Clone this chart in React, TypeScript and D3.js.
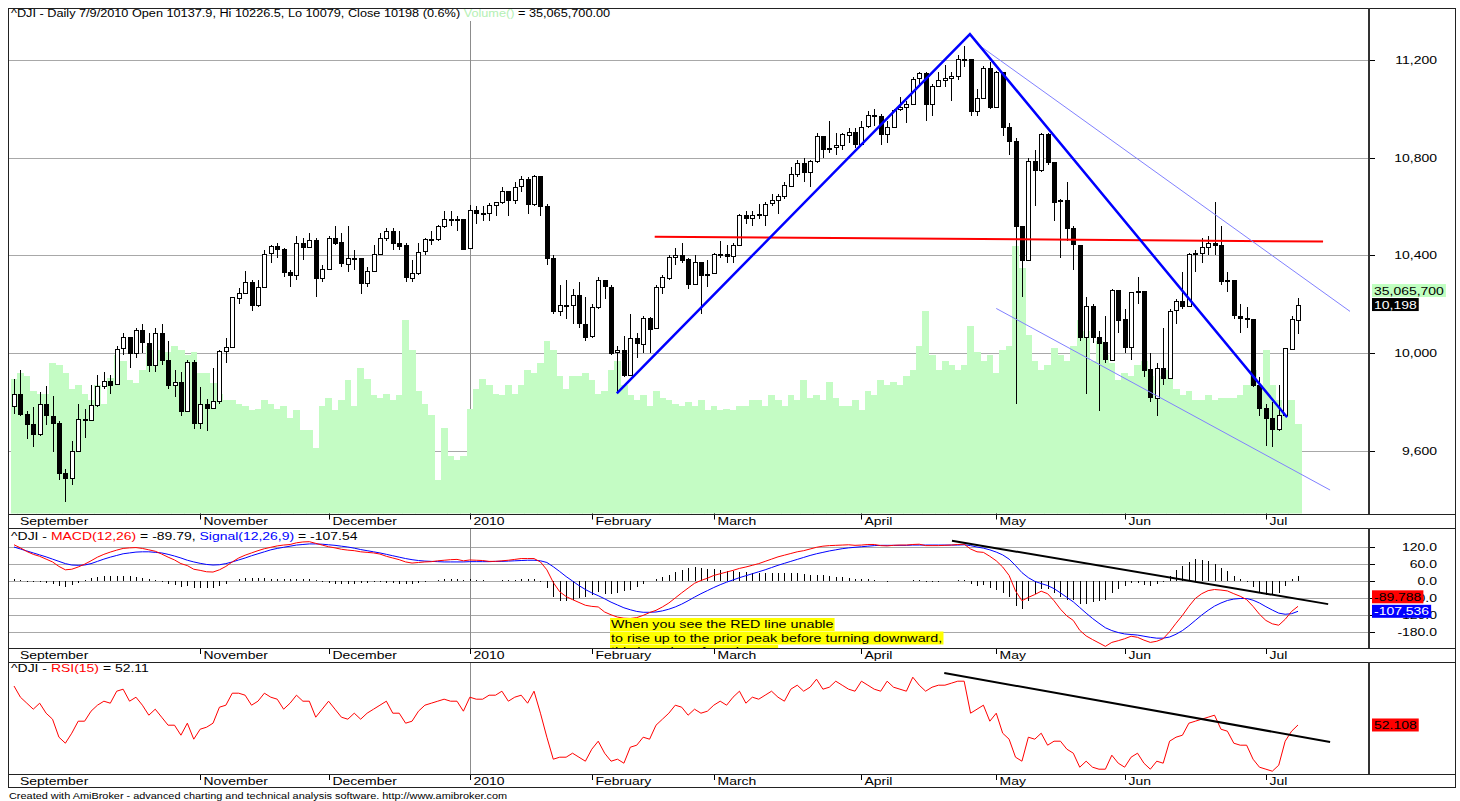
import React from 'react';
import * as d3 from 'd3';

// ---------- DATA (daily bars, 9/22/2009 .. 7/9/2010) ----------
const openP = [
  9779, 9830, 9749, 9707, 9665, 9789, 9742, 9712, 9509, 9488,
  9600, 9731, 9726, 9787, 9865, 9886, 9871, 10016, 10063, 9996,
  10092, 10041, 9949, 10081, 9972, 9868, 9882, 9763, 9963, 9713,
  9789, 9772, 9802, 10006, 10023, 10227, 10247, 10291, 10197, 10270,
  10407, 10437, 10426, 10332, 10318, 10451, 10434, 10464, 10310, 10345,
  10472, 10453, 10366, 10389, 10390, 10286, 10337, 10406, 10472, 10501,
  10452, 10441, 10308, 10329, 10414, 10465, 10466, 10520, 10547, 10545,
  10549, 10428, 10584, 10572, 10574, 10607, 10618, 10664, 10627, 10681,
  10711, 10610, 10725, 10603, 10390, 10173, 10197, 10194, 10236, 10120,
  10067, 10186, 10297, 10271, 10002, 10012, 9908, 10059, 10038, 10144,
  10099, 10269, 10309, 10393, 10402, 10383, 10282, 10374, 10321, 10325,
  10404, 10406, 10397, 10444, 10566, 10553, 10564, 10567, 10612, 10625,
  10642, 10686, 10734, 10779, 10742, 10786, 10889, 10836, 10841, 10850,
  10896, 10907, 10857, 10927, 10974, 10970, 10898, 10927, 10997, 11006,
  11019, 11123, 11145, 11019, 11092, 11117, 11125, 11134, 11204, 11205,
  10992, 11045, 11167, 11009, 11152, 10927, 10868, 10520, 10380, 10785,
  10748, 10897, 10783, 10620, 10626, 10511, 10444, 10068, 10193, 10067,
  10044, 9974, 10259, 10137, 10024, 10250, 10255, 9932, 9816, 9940,
  9899, 10173, 10211, 10191, 10405, 10409, 10434, 10451, 10442, 10294,
  10298, 10153, 10144, 10139, 9870, 9774, 9733, 9686, 9744, 10018,
  10137.9,
];
const highP = [
  9892, 9930, 9760, 9780, 9840, 9863, 9822, 9720, 9525, 9640,
  9790, 9770, 9870, 9910, 9920, 9910, 10030, 10080, 10060, 10100,
  10120, 10080, 10100, 10120, 10050, 9930, 9920, 9970, 9970, 9860,
  9810, 9940, 10010, 10060, 10230, 10265, 10335, 10300, 10300, 10420,
  10440, 10450, 10430, 10340, 10480, 10470, 10490, 10470, 10360, 10480,
  10520, 10490, 10520, 10420, 10390, 10350, 10440, 10490, 10510, 10510,
  10500, 10450, 10380, 10450, 10470, 10500, 10525, 10580, 10580, 10560,
  10550, 10605, 10600, 10600, 10615, 10620, 10680, 10665, 10700, 10725,
  10720, 10730, 10725, 10610, 10400, 10280, 10300, 10260, 10290, 10230,
  10200, 10310, 10300, 10280, 10030, 10070, 10160, 10080, 10150, 10145,
  10280, 10320, 10400, 10430, 10450, 10390, 10400, 10374, 10380, 10410,
  10460, 10440, 10450, 10570, 10580, 10580, 10610, 10620, 10650, 10650,
  10700, 10760, 10790, 10800, 10790, 10900, 10890, 10950, 10900, 10900,
  10920, 10920, 10950, 10990, 11000, 10980, 10950, 11000, 11050, 11030,
  11130, 11150, 11150, 11100, 11150, 11180, 11150, 11220, 11258, 11205,
  11080, 11175, 11190, 11155, 11152, 10940, 10880, 10520, 10800, 10830,
  10900, 10900, 10783, 10630, 10700, 10520, 10444, 10230, 10200, 10090,
  10150, 10260, 10259, 10180, 10250, 10310, 10255, 10000, 9960, 10100,
  10180, 10220, 10330, 10410, 10420, 10470, 10480, 10620, 10520, 10330,
  10300, 10200, 10190, 10139, 9900, 9790, 9800, 9870, 10020, 10150,
  10226.5,
];
const lowP = [
  9750, 9740, 9647, 9614, 9660, 9705, 9593, 9480, 9389, 9460,
  9595, 9650, 9720, 9780, 9850, 9830, 9870, 9990, 9940, 9980,
  10000, 9920, 9920, 9950, 9850, 9820, 9740, 9760, 9690, 9690,
  9680, 9770, 9790, 9960, 10020, 10200, 10240, 10170, 10190, 10270,
  10370, 10390, 10310, 10270, 10300, 10380, 10430, 10230, 10290, 10340,
  10440, 10350, 10330, 10340, 10240, 10270, 10330, 10400, 10460, 10420,
  10420, 10290, 10290, 10320, 10400, 10440, 10460, 10510, 10520, 10500,
  10420, 10428, 10530, 10540, 10540, 10560, 10610, 10560, 10610, 10660,
  10570, 10600, 10560, 10360, 10160, 10150, 10140, 10120, 10100, 10050,
  10060, 10180, 10220, 9990, 9840, 9900, 9908, 9980, 10000, 10000,
  10099, 10240, 10300, 10360, 10370, 10260, 10280, 10160, 10270, 10325,
  10390, 10370, 10370, 10444, 10530, 10520, 10550, 10520, 10600, 10570,
  10630, 10686, 10720, 10700, 10680, 10780, 10800, 10820, 10810, 10830,
  10860, 10840, 10857, 10920, 10930, 10850, 10860, 10920, 10990, 10940,
  11019, 11100, 10950, 10970, 11090, 11090, 11030, 11120, 11170, 10970,
  10970, 11045, 11000, 11009, 10890, 10810, 9790, 10230, 10380, 10600,
  10740, 10770, 10540, 10390, 10460, 10340, 10050, 9830, 10040, 9760,
  9960, 9974, 10080, 10000, 9970, 10200, 9900, 9800, 9740, 9870,
  9899, 10120, 10180, 10190, 10330, 10370, 10400, 10400, 10280, 10250,
  10140, 10080, 10100, 9860, 9740, 9620, 9615, 9680, 9744, 10010,
  10079,
];
const closeP = [
  9830, 9749, 9707, 9665, 9789, 9742, 9712, 9509, 9488, 9600,
  9731, 9726, 9787, 9865, 9886, 9871, 10016, 10063, 9996, 10092,
  10041, 9949, 10081, 9972, 9868, 9882, 9763, 9963, 9713, 9789,
  9772, 9802, 10006, 10023, 10227, 10247, 10291, 10197, 10270, 10407,
  10437, 10426, 10332, 10318, 10451, 10434, 10464, 10310, 10345, 10472,
  10453, 10366, 10389, 10390, 10286, 10337, 10406, 10472, 10501, 10452,
  10441, 10308, 10329, 10414, 10465, 10466, 10520, 10547, 10545, 10549,
  10428, 10584, 10572, 10574, 10607, 10618, 10664, 10627, 10681, 10711,
  10610, 10725, 10603, 10390, 10173, 10197, 10194, 10236, 10120, 10067,
  10186, 10297, 10271, 10002, 10012, 9908, 10059, 10038, 10144, 10099,
  10269, 10309, 10393, 10402, 10383, 10282, 10374, 10321, 10325, 10404,
  10406, 10397, 10444, 10566, 10553, 10564, 10567, 10612, 10625, 10642,
  10686, 10734, 10779, 10742, 10786, 10889, 10836, 10841, 10850, 10896,
  10907, 10857, 10927, 10974, 10970, 10898, 10927, 10997, 11006, 11019,
  11123, 11145, 11019, 11092, 11117, 11125, 11134, 11204, 11205, 10992,
  11045, 11167, 11009, 11152, 10927, 10868, 10520, 10380, 10785, 10748,
  10897, 10783, 10620, 10626, 10511, 10444, 10068, 10193, 10067, 10044,
  9974, 10259, 10137, 10024, 10250, 10255, 9932, 9816, 9940, 9899,
  10173, 10211, 10191, 10405, 10409, 10434, 10451, 10442, 10294, 10298,
  10153, 10144, 10139, 9870, 9774, 9733, 9686, 9744, 10018, 10139,
  10198.03,
];
// volume in millions
const volumeM = [
  53.1, 55.5, 54.3, 48.4, 47.2, 47.2, 59.4, 58.3, 55.5, 49.2,
  50.4, 47.2, 44.5, 50.4, 43.3, 53.5, 62.2, 60.2, 52.4, 51.2,
  56.3, 66.1, 64.2, 64.2, 63.4, 66.1, 64.2, 62.2, 63.4, 55.5,
  55.5, 51.2, 47.2, 44.5, 44.5, 43.3, 42.5, 40.6, 41.3, 44.5,
  43.3, 41.3, 42.5, 37.4, 40.6, 32.7, 32.7, 25.6, 42.5, 45.3,
  40.6, 44.5, 52.4, 42.5, 57.1, 53.1, 46.5, 45.3, 47.2, 44.5,
  46.5, 76.0, 64.2, 48.4, 43.3, 38.6, 13.0, 33.5, 22.8, 20.9,
  22.8, 41.3, 49.2, 53.1, 50.4, 47.2, 46.5, 50.4, 47.2, 50.4,
  56.3, 55.5, 59.4, 68.1, 64.2, 54.3, 49.2, 54.3, 54.3, 55.5,
  52.4, 47.2, 48.4, 56.3, 60.2, 50.4, 46.5, 44.5, 46.5, 42.5,
  48.4, 45.3, 44.5, 43.3, 42.5, 43.7, 42.5, 44.5, 40.6, 42.5,
  40.6, 41.3, 40.6, 42.5, 42.5, 44.5, 44.5, 42.5, 46.5, 44.5,
  42.5, 46.5, 44.5, 52.4, 45.3, 46.5, 44.5, 51.6, 45.3, 42.5,
  42.5, 44.5, 40.6, 48.4, 46.5, 52.4, 50.4, 51.6, 50.4, 54.3,
  56.3, 66.1, 79.9, 62.2, 56.3, 60.2, 58.3, 56.3, 58.3, 74.0,
  63.4, 60.2, 62.2, 55.5, 64.2, 66.1, 105.5, 96.5, 70.1, 60.2,
  56.3, 58.3, 65.0, 62.2, 60.2, 66.1, 76.0, 72.0, 60.2, 68.1,
  62.2, 59.4, 52.4, 55.5, 54.3, 58.3, 60.2, 54.3, 52.4, 54.3,
  56.3, 49.2, 46.5, 48.4, 44.5, 44.5, 46.5, 44.5, 45.3, 45.3,
  45.3, 46.5, 50.4, 56.3, 50.4, 64.2, 50.4, 44.5, 40.6, 44.5,
  35.0657,
];
const macdV = [
  129, 118, 105, 95, 88, 78, 68, 52, 40, 42,
  50, 60, 72, 85, 95, 103, 110, 116, 118, 119,
  116, 111, 106, 96, 85, 75, 62, 55, 42, 38,
  33, 32, 40, 52, 68, 82, 92, 100, 108, 115,
  120, 125, 128, 130, 136, 139, 140, 134, 128, 122,
  118, 113, 110, 108, 104, 102, 100, 96, 88, 82,
  76, 68, 64, 66, 68, 69, 72, 74, 76, 77,
  72, 75, 74, 73, 70, 70, 72, 74, 77, 80,
  80, 80, 68, 40, -5, -38, -55, -66, -76, -86,
  -90, -92, -110, -120, -128, -132, -133, -130, -122, -112,
  -104, -92, -78, -60, -42, -25, -8, 2, 10, 20,
  26, 32, 38, 45, 50, 56, 62, 70, 78, 86,
  92, 98, 104, 108, 114, 120, 124, 126, 127, 128,
  129, 127, 128, 130, 130, 126, 125, 127, 128, 128,
  130, 131, 126, 126, 126, 127, 128, 130, 131, 114,
  104, 102, 88, 72, 50, 20, -35, -70, -58, -48,
  -36, -45, -70, -100, -124, -140, -175, -195, -208, -220,
  -232, -218, -212, -205, -196, -200, -210, -218, -214, -205,
  -180, -150, -122, -90, -62, -45, -34, -30, -32, -35,
  -45, -54, -66, -90, -118, -140, -152, -157, -136, -108,
  -89.788,
];
const signalV = [
  121, 114, 107, 100, 93, 86, 78, 70, 62, 57,
  56, 57, 62, 70, 78, 85, 91, 97, 100, 103,
  104, 104, 102, 100, 95, 89, 82, 74, 68, 63,
  59, 57, 58, 62, 68, 75, 82, 90, 97, 104,
  111, 116, 120, 124, 128, 130, 132, 132, 131, 129,
  127, 124, 121, 117, 112, 108, 104, 100, 95, 90,
  85, 80, 76, 73, 71, 70, 69, 68, 68, 68,
  68, 69, 69, 69, 69, 70, 70, 71, 72, 73,
  74, 74, 72, 66, 51, 34, 16, 0, -16, -30,
  -42, -52, -63, -75, -85, -95, -102, -108, -111, -111,
  -110, -106, -100, -92, -82, -70, -57, -45, -34, -23,
  -13, -4, 4, 12, 19, 26, 33, 40, 48, 56,
  63, 70, 77, 84, 91, 97, 102, 107, 111, 115,
  118, 120, 122, 124, 126, 127, 127, 127, 127, 127,
  128, 128, 128, 128, 128, 128, 128, 128, 129, 126,
  121, 117, 111, 103, 93, 78, 55, 30, 12, -1,
  -9, -16, -27, -42, -58, -74, -94, -114, -133, -150,
  -166, -176, -183, -188, -190, -192, -196, -200, -203, -203,
  -199, -189, -176, -159, -140, -121, -104, -89, -78, -69,
  -64, -62, -62, -68, -78, -91, -103, -114, -118, -116,
  -107.536,
];
const rsiV = [
  71.6, 66, 63, 60, 63, 58, 55, 46, 43, 48,
  54, 54, 59, 62, 64, 63, 69, 70, 64, 66,
  62, 57, 60, 56, 52, 52, 47, 53, 45, 50,
  51, 53, 61, 62, 68, 68, 67, 62, 64, 68,
  66, 65, 60, 63, 67, 64, 64, 56, 60, 64,
  60, 56, 55, 58, 55, 58, 60, 62, 64, 58,
  58, 53, 54, 59, 62, 63, 64, 65, 64, 64,
  59, 66, 65, 65, 67, 67, 69, 64, 66, 67,
  63, 69, 58, 46, 35, 36, 36, 38, 36, 34,
  40, 44, 38, 34, 35, 33, 41, 42, 46, 45,
  52, 55, 58, 62, 61, 57, 60, 58, 59, 62,
  64, 62, 66, 69, 63, 66, 65, 67, 69, 66,
  64, 70, 72, 69, 71, 75, 70, 71, 74, 72,
  70, 69, 74, 72, 70, 69, 74, 71, 70, 69,
  76, 72, 69, 71, 72, 72, 73, 74, 74, 58,
  60, 62, 54, 58, 48, 45, 36, 34, 46, 45,
  48, 42, 44, 44, 40, 38, 31, 34, 31, 30,
  30, 37, 33, 31, 36, 38, 33, 30, 34, 33,
  44, 46, 47, 53, 54, 55, 56, 57, 50, 49,
  43, 42, 42, 35, 31, 30, 29, 32, 44, 49,
  52.108,
];

const priceTicks = [9600, 10000, 10400, 10800, 11200];
const macdTicks = [120, 60, 0, -60, -120, -180];
const firstMonthLabel = 'September';
const monthLabels = ['November', 'December', '2010', 'February', 'March', 'April', 'May', 'Jun', 'Jul'];
const monthStartIdx = [29, 49, 71, 90, 109, 132, 153, 173, 195];
const yearStartIdx = 71;

// hand-drawn study lines, in data coordinates [bar index, value]
const blueZigZag: [number, number][] = [[93.9, 9834], [148.9, 11306], [198.3, 9736]];
const upperChannel: [number, number][] = [[150.3, 11261], [208.1, 10170]];
const lowerChannel: [number, number][] = [[153, 10182], [205, 9438]];
const redLevel: [number, number][] = [[99.8, 10476], [203.9, 10456]];
const macdTrend: [number, number][] = [[146.1, 143], [204.7, -82]];
const rsiTrend: [number, number][] = [[144.9, 78.1], [205, 43.6]];

const noteLines = [
  'When you see the RED line unable',
  'to rise up to the prior peak before turning downward,',
  'this is a sign of weakness.',
];

// ---------- LAYOUT ----------
const FONT = "'Liberation Sans', Arial, Helvetica, sans-serif";
const SX = 1.27;
const FL = 8, FR = 1455, FT = 8, FB = 787;
const AX = 1369;
const MAIN = { t: 8, b: 513.5 };
const MACDP = { t: 528, b: 648 };
const RSIP = { t: 662, b: 774 };
const GRID = '#a8a8a8';
const VOLC = '#c4fcc4';

let _ctx: CanvasRenderingContext2D | null = null;
function textW(s: string, size: number, sx = SX) {
  if (!_ctx && typeof document !== 'undefined') _ctx = document.createElement('canvas').getContext('2d');
  if (!_ctx) return s.length * size * 0.55 * sx;
  _ctx.font = `${size}px ${FONT}`;
  return _ctx.measureText(s).width * sx;
}

function T(props: { x: number; y: number; size?: number; anchor?: string; fill?: string; sx?: number; children: React.ReactNode }) {
  const { x, y, size = 11, anchor = 'start', fill = '#000', sx = SX, children } = props;
  return (
    <text transform={`translate(${x},${y}) scale(${sx},1)`} fontSize={size} fontFamily={FONT} textAnchor={anchor as any} fill={fill}>
      {children}
    </text>
  );
}

function ValueBox(props: { y: number; text: string; bg: string; fg: string }) {
  const { y, text, bg, fg } = props;
  const w = textW(text, 11) + 4;
  return (
    <g>
      <rect x={AX + 3} y={y - 6.5} width={w} height={13} fill={bg} />
      <T x={AX + 5} y={y + 4} fill={fg}>{text}</T>
    </g>
  );
}

export default function App() {
  const n = closeP.length;
  const x = d3.scaleLinear().domain([0, n - 1]).range([14, 1298]);
  const bw = x(1) - x(0);
  const yP = d3.scaleLinear().domain([9600, 11200]).range([450.5, 60]);
  const yV = d3.scaleLinear().domain([0, 105.5]).range([MAIN.b, 245.5]);
  const yM = d3.scaleLinear().domain([-180, 120]).range([631.7, 547.3]);
  const yR = d3.scaleLinear().domain([27.6, 83.6]).range([RSIP.b, RSIP.t]);

  const lineM = d3.line<number>().x((_, i) => x(i)).y((d) => yM(d));
  const lineR = d3.line<number>().x((_, i) => x(i)).y((d) => yR(d));
  const seg = (pts: [number, number][], ys: d3.ScaleLinear<number, number>) =>
    d3.line<[number, number]>().x((d) => x(d[0])).y((d) => ys(d[1]))(pts) || '';

  const last = n - 1;
  const lastO = openP[last], lastH = highP[last], lastL = lowP[last], lastC = closeP[last];
  const chg = ((lastC / closeP[last - 1]) - 1) * 100;
  const fmtComma = d3.format(',');
  const volText = fmtComma(Math.round(volumeM[last] * 1e6));
  const xYear = Math.round(x(yearStartIdx)) + 0.5;

  const strips = [MAIN.b, MACDP.b, RSIP.b];

  const closeY = yP(lastC);
  const sigY = yM(signalV[last]);
  const macdY = Math.min(yM(macdV[last]), sigY - 14.5);

  return (
    <svg width={1460} height={801} style={{ position: 'fixed', left: 0, top: 0, background: '#fff' }}>
      <defs>
        <clipPath id="cMain"><rect x={FL} y={MAIN.t} width={AX - FL} height={MAIN.b - MAIN.t} /></clipPath>
        <clipPath id="cMacd"><rect x={FL} y={MACDP.t} width={AX - FL} height={MACDP.b - MACDP.t} /></clipPath>
        <clipPath id="cRsi"><rect x={FL} y={RSIP.t} width={AX - FL} height={RSIP.b - RSIP.t} /></clipPath>
      </defs>
      <rect x={0} y={0} width={1460} height={801} fill="#fff" />

      {/* ---------------- MAIN PANEL ---------------- */}
      <g clipPath="url(#cMain)">
        {priceTicks.map((v) => (
          <line key={v} x1={FL} x2={AX} y1={Math.round(yP(v)) + 0.5} y2={Math.round(yP(v)) + 0.5} stroke={GRID} />
        ))}
        <line x1={xYear} x2={xYear} y1={21} y2={MAIN.b} stroke="#8c8c8c" />
        {volumeM.map((v, i) => (
          <rect key={i} x={x(i) - bw / 2} width={bw + 0.4} y={yV(v)} height={MAIN.b - yV(v)} fill={VOLC} shapeRendering="crispEdges" />
        ))}
        {closeP.map((c, i) => {
          const o = openP[i];
          const cx = Math.round(x(i));
          const top = yP(Math.max(o, c));
          const bot = yP(Math.min(o, c));
          const up = c >= o;
          return (
            <g key={i} shapeRendering="crispEdges">
              <line x1={cx + 0.5} x2={cx + 0.5} y1={yP(highP[i])} y2={yP(lowP[i])} stroke="#000" />
              <rect x={cx - 1.5} y={Math.round(top) + 0.5} width={4} height={Math.max(1, Math.round(bot - top))}
                fill={up ? '#fff' : '#000'} stroke="#000" />
            </g>
          );
        })}
        <path d={seg(redLevel, yP)} stroke="#ff0000" strokeWidth={2} fill="none" />
        <path d={seg(upperChannel, yP)} stroke="#8080ff" strokeWidth={1} fill="none" />
        <path d={seg(lowerChannel, yP)} stroke="#8080ff" strokeWidth={1} fill="none" />
        <path d={seg(blueZigZag, yP)} stroke="#0000ff" strokeWidth={2.5} fill="none" strokeLinejoin="miter" />
      </g>
      <T x={11} y={17} size={10}>
        ^DJI - Daily 7/9/2010 Open {lastO}, Hi {lastH}, Lo {lastL}, Close {String(+lastC.toFixed(0))} ({chg.toFixed(1)}%)
        <tspan fill="#b4f0b4"> Volume()</tspan>
        <tspan> = {volText}.00</tspan>
      </T>

      {/* ---------------- MACD PANEL ---------------- */}
      <g clipPath="url(#cMacd)">
        {macdTicks.map((v) => (
          <line key={v} x1={FL} x2={AX} y1={Math.round(yM(v)) + 0.5} y2={Math.round(yM(v)) + 0.5} stroke={GRID} />
        ))}
        <line x1={xYear} x2={xYear} y1={MACDP.t} y2={MACDP.b} stroke="#8c8c8c" />
        {macdV.map((m, i) => (
          <line key={i} x1={Math.round(x(i)) + 0.5} x2={Math.round(x(i)) + 0.5} y1={yM(0)} y2={yM(m - signalV[i])} stroke="#000" shapeRendering="crispEdges" />
        ))}
        <path d={lineM(signalV) || ''} stroke="#0000ff" fill="none" strokeWidth={1} />
        <path d={lineM(macdV) || ''} stroke="#ff0000" fill="none" strokeWidth={1} />
        <path d={seg(macdTrend, yM)} stroke="#000" strokeWidth={2} fill="none" />
        {noteLines.map((s, k) => {
          const by = 628 + k * 13.5;
          return (
            <g key={k}>
              <rect x={610} y={by - 10} width={textW(s, 11, 1.3) + 2} height={13} fill="#ffff00" />
              <T x={611} y={by} size={11} sx={1.3}>{s}</T>
            </g>
          );
        })}
      </g>
      <T x={11} y={540}>
        ^DJI - <tspan fill="#ff0000">MACD(12,26)</tspan> = {macdV[last].toFixed(2)}, <tspan fill="#0000ff">Signal(12,26,9)</tspan> = {signalV[last].toFixed(2)}
      </T>

      {/* ---------------- RSI PANEL ---------------- */}
      <g clipPath="url(#cRsi)">
        <line x1={xYear} x2={xYear} y1={RSIP.t} y2={RSIP.b} stroke="#8c8c8c" />
        <path d={lineR(rsiV) || ''} stroke="#ff0000" fill="none" strokeWidth={1} />
        <path d={seg(rsiTrend, yR)} stroke="#000" strokeWidth={2} fill="none" />
      </g>
      <T x={11} y={672}>
        ^DJI - <tspan fill="#ff0000">RSI(15)</tspan> = {rsiV[last].toFixed(2)}
      </T>

      {/* ---------------- DATE STRIPS ---------------- */}
      {strips.map((sy, k) => (
        <g key={k}>
          <T x={x(0) + 6} y={sy + 11}>{firstMonthLabel}</T>
          {monthStartIdx.map((idx, j) => {
            const mx = Math.round(x(idx)) + 0.5;
            return (
              <g key={j}>
                <line x1={mx} x2={mx} y1={sy} y2={sy + 6} stroke="#000" />
                <T x={mx + 3} y={sy + 11}>{monthLabels[j]}</T>
              </g>
            );
          })}
        </g>
      ))}

      {/* ---------------- AXES ---------------- */}
      {priceTicks.map((v) => (
        <g key={v}>
          <line x1={AX} x2={AX + 6} y1={Math.round(yP(v)) + 0.5} y2={Math.round(yP(v)) + 0.5} stroke="#000" />
          <T x={1437} y={yP(v) + 4} anchor="end">{fmtComma(v)}</T>
        </g>
      ))}
      {macdTicks.map((v) => (
        <g key={v}>
          <line x1={AX} x2={AX + 6} y1={Math.round(yM(v)) + 0.5} y2={Math.round(yM(v)) + 0.5} stroke="#000" />
          <T x={1437} y={yM(v) + 4} anchor="end">{v.toFixed(1)}</T>
        </g>
      ))}
      <ValueBox y={closeY - 14} text={volText} bg="#c0ffc0" fg="#000" />
      <ValueBox y={closeY} text={fmtComma(Math.round(lastC))} bg="#000" fg="#fff" />
      <ValueBox y={macdY} text={macdV[last].toFixed(3)} bg="#ff0000" fg="#000" />
      <ValueBox y={sigY} text={signalV[last].toFixed(3)} bg="#0000ff" fg="#fff" />
      <ValueBox y={yR(rsiV[last])} text={rsiV[last].toFixed(3)} bg="#ff0000" fg="#000" />

      {/* ---------------- FRAMES ---------------- */}
      <g fill="none" shapeRendering="crispEdges">
        <rect x={FL + 0.5} y={FT + 0.5} width={FR - FL} height={FB - FT} stroke="#222" />
        {[MAIN.b, MACDP.t, MACDP.b, RSIP.t, RSIP.b].map((yy, k) => (
          <line key={k} x1={FL} x2={FR} y1={Math.round(yy) + 0.5} y2={Math.round(yy) + 0.5} stroke="#222" />
        ))}
        <line x1={AX} x2={AX} y1={MAIN.t} y2={MAIN.b} stroke="#333" strokeWidth={2} />
        <line x1={AX} x2={AX} y1={MACDP.t} y2={MACDP.b} stroke="#333" strokeWidth={2} />
        <line x1={AX} x2={AX} y1={RSIP.t} y2={RSIP.b} stroke="#333" strokeWidth={2} />
      </g>

      <T x={9} y={799} size={8.6}>
        Created with AmiBroker - advanced charting and technical analysis software. http://www.amibroker.com
      </T>
    </svg>
  );
}
